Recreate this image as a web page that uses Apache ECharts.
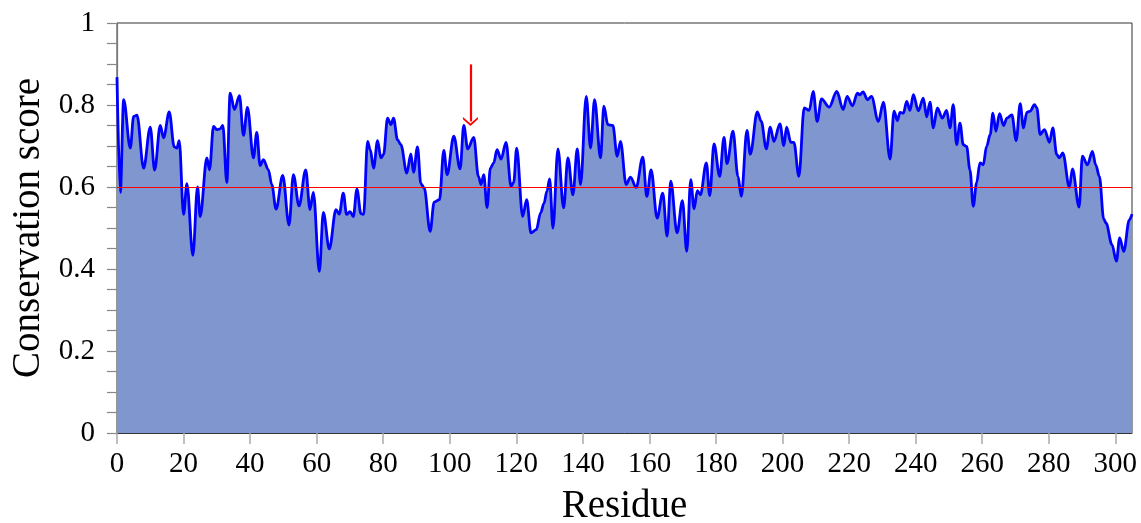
<!DOCTYPE html>
<html>
<head>
<meta charset="utf-8">
<script src="https://cdn.jsdelivr.net/npm/echarts@6/dist/echarts.min.js"></script>
<style>
html,body{margin:0;padding:0;background:#fff;}
#chart{width:1141px;height:523px;}
</style>
</head>
<body>
<div id="chart"></div>
<script>
// Residue positions and conservation scores
const residues = [
  0, 1, 2, 4, 5, 6, 8, 10, 11.3, 13, 14, 15.7, 17.2, 18, 18.7, 20, 21, 22.8, 24.2, 25,
  27, 27.8, 29, 30, 31, 31.8, 33, 34, 35.3, 36.8, 38, 39.2, 41, 42, 43, 44, 45.5, 46.5, 47.8, 49.8,
  51.7, 53, 54.7, 56.7, 58, 59, 60.8, 62, 63.8, 65.8, 66.8, 68, 69, 70, 71, 72.1, 73.3, 74.1, 75.3, 76.1,
  77.1, 78.3, 79.3, 80.1, 81.3, 82.3, 83.1, 84.3, 85.3, 87.1, 88.3, 89.1, 90.3, 91.3, 92.3, 94.1, 95.3, 96.9, 98.2, 99.2,
  101.2, 103.1, 104.2, 105.4, 107.2, 108.6, 109.4, 110.2, 111.2, 112.2, 113.2, 114.2, 115.4, 116.9, 118.4, 119.2, 120.1, 121.9, 123.1, 124.4,
  126, 127.3, 128.3, 129.2, 130, 131, 132.5, 134.2, 135.5, 137, 138.3, 139.3, 141, 142.3, 143.5, 145.3, 146.3, 147.5, 149, 150.3,
  151.3, 153, 154.3, 156, 158, 159.2, 160.5, 162.3, 164, 165.3, 166.4, 168.3, 169.9, 171.2, 172.4, 173.4, 174.4, 175.3, 177.1, 178.1,
  179.4, 181.1, 182.4, 183.3, 185.1, 186.6, 187.6, 189.3, 190.3, 192.4, 193.6, 195.1, 196.3, 197.4, 199.2, 200.4, 201.2, 202.5, 203.4, 204.9,
  206.5, 208, 209.2, 210.4, 211.7, 214, 216.3, 218.2, 219.4, 221, 222.5, 223.2, 224.2, 225.5, 226.7, 228.8, 230.3, 232.3, 233.5, 234.5,
  235.3, 236.3, 237.3, 238.3, 239.3, 240.8, 242.3, 243.3, 244.3, 245.3, 246.5, 248, 249.3, 250.3, 251.3, 252.3, 253.3, 254.3, 255.3, 256.3,
  257.3, 258.3, 259.3, 260.3, 261.3, 262.4, 263.2, 264.1, 265.2, 266.4, 267.4, 268.9, 270.2, 271.4, 272.4, 273.4, 274.4, 275.7, 276.4, 277.4,
  278.7, 280.2, 281.2, 282.4, 283.2, 284.2, 286.2, 287.1, 289.1, 290.1, 291.6, 293.1, 294.1, 295.2, 296.5, 297.2, 299, 300.3, 301.3, 302.5,
  304.2, 305
];
const scores = [
  0.868, 0.587, 0.813, 0.695, 0.772, 0.775, 0.646, 0.746, 0.641, 0.750, 0.720, 0.783, 0.698, 0.695, 0.713, 0.533, 0.608, 0.433, 0.600, 0.528,
  0.671, 0.642, 0.748, 0.740, 0.742, 0.750, 0.611, 0.829, 0.789, 0.823, 0.726, 0.794, 0.671, 0.733, 0.652, 0.667, 0.642, 0.606, 0.546, 0.628,
  0.507, 0.630, 0.554, 0.642, 0.545, 0.587, 0.394, 0.538, 0.449, 0.545, 0.534, 0.585, 0.533, 0.540, 0.528, 0.595, 0.535, 0.533, 0.711, 0.691,
  0.646, 0.713, 0.671, 0.679, 0.768, 0.752, 0.768, 0.715, 0.703, 0.634, 0.681, 0.636, 0.698, 0.608, 0.598, 0.492, 0.563, 0.569, 0.689, 0.630,
  0.724, 0.644, 0.750, 0.693, 0.721, 0.626, 0.606, 0.630, 0.550, 0.646, 0.659, 0.691, 0.668, 0.709, 0.602, 0.611, 0.695, 0.528, 0.569, 0.488,
  0.496, 0.537, 0.560, 0.590, 0.620, 0.500, 0.693, 0.549, 0.671, 0.581, 0.693, 0.606, 0.821, 0.695, 0.813, 0.671, 0.797, 0.752, 0.750, 0.675,
  0.711, 0.606, 0.624, 0.599, 0.673, 0.577, 0.642, 0.524, 0.585, 0.480, 0.614, 0.488, 0.567, 0.443, 0.618, 0.547, 0.591, 0.581, 0.659, 0.579,
  0.705, 0.626, 0.721, 0.657, 0.736, 0.626, 0.577, 0.738, 0.680, 0.783, 0.760, 0.693, 0.746, 0.711, 0.754, 0.701, 0.746, 0.709, 0.709, 0.626,
  0.793, 0.787, 0.833, 0.760, 0.815, 0.795, 0.833, 0.789, 0.821, 0.798, 0.829, 0.825, 0.832, 0.813, 0.821, 0.760, 0.807, 0.668, 0.785, 0.762,
  0.782, 0.780, 0.809, 0.787, 0.825, 0.786, 0.817, 0.771, 0.807, 0.744, 0.793, 0.768, 0.787, 0.744, 0.801, 0.703, 0.756, 0.703, 0.699, 0.642,
  0.553, 0.610, 0.659, 0.654, 0.699, 0.728, 0.780, 0.736, 0.779, 0.750, 0.768, 0.776, 0.713, 0.803, 0.744, 0.782, 0.785, 0.801, 0.793, 0.728,
  0.740, 0.709, 0.744, 0.679, 0.671, 0.683, 0.599, 0.644, 0.551, 0.675, 0.654, 0.687, 0.654, 0.626, 0.522, 0.512, 0.459, 0.419, 0.476, 0.443,
  0.520, 0.534
];
const xTicks = [0, 20, 40, 60, 80, 100, 120, 140, 160, 180, 200, 220, 240, 260, 280, 300];
const yTicks = [0, 0.2, 0.4, 0.6, 0.8, 1];
const threshold = 0.6;
const arrowResidue = 106.2;
const arrowFrom = 0.899;
const arrowTo = 0.76;

const font = '"Liberation Serif", "DejaVu Serif", serif';
const points = residues.map((r, i) => [r, scores[i]]);

const chart = echarts.init(document.getElementById('chart'), null, {renderer: 'canvas'});
chart.setOption({
  animation: false,
  backgroundColor: '#ffffff',
  grid: {left: 117, right: 9, top: 23, bottom: 90, show: true, borderColor: '#333', borderWidth: 1,
         containLabel: false, outerBoundsMode: 'none'},
  xAxis: {
    type: 'value', min: 0, max: 305, interval: 20,
    name: 'Residue', nameLocation: 'middle', nameGap: 54,
    nameTextStyle: {fontFamily: font, fontSize: 39, color: '#000'},
    axisLine: {show: true, onZero: false, lineStyle: {color: '#333', width: 1}},
    axisTick: {show: true, inside: false, length: 11, lineStyle: {color: '#aaa', width: 1.5}, customValues: xTicks},
    axisLabel: {fontFamily: font, fontSize: 29, color: '#000', margin: 17, customValues: xTicks},
    splitLine: {show: false}
  },
  yAxis: {
    type: 'value', min: 0, max: 1, interval: 0.2,
    name: 'Conservation score', nameLocation: 'middle', nameGap: 68,
    nameTextStyle: {fontFamily: font, fontSize: 39, color: '#000'},
    axisLine: {show: true, lineStyle: {color: '#777', width: 1.2}},
    axisTick: {show: true, inside: false, length: 10, lineStyle: {color: '#888', width: 1.2}},
    minorTick: {show: true, splitNumber: 4, length: 10, lineStyle: {color: '#888', width: 1.2}},
    axisLabel: {fontFamily: font, fontSize: 29, color: '#000', margin: 22,
      formatter: v => String(yTicks.find(t => Math.abs(t - v) < 1e-9) ?? v)},
    splitLine: {show: false}
  },
  series: [
    {
      type: 'line',
      data: points,
      smooth: 0.35,
      smoothMonotone: 'x',
      showSymbol: false,
      symbol: 'none',
      lineStyle: {color: '#0000ff', width: 2.8},
      areaStyle: {color: '#8096ce', opacity: 1, origin: 'start'},
      z: 2,
      markLine: {
        silent: true,
        symbol: ['none', 'none'],
        label: {show: false},
        lineStyle: {color: '#ff0000', width: 1.2, type: 'solid'},
        data: [{yAxis: threshold}],
        z: 3
      }
    },
    {
      type: 'line',
      data: [],
      markLine: {
        silent: true,
        label: {show: false},
        lineStyle: {color: '#ff0000', width: 2.2, type: 'solid'},
        data: [[
          {coord: [arrowResidue, arrowFrom], symbol: 'none'},
          {coord: [arrowResidue, arrowTo], symbol: 'path://M0,7 L7,0 L14,7 L14,9.6 L7,2.6 L0,9.6 Z', symbolSize: [15, 9]}
        ]]
      },
      z: 5
    }
  ]
});
</script>
</body>
</html>
